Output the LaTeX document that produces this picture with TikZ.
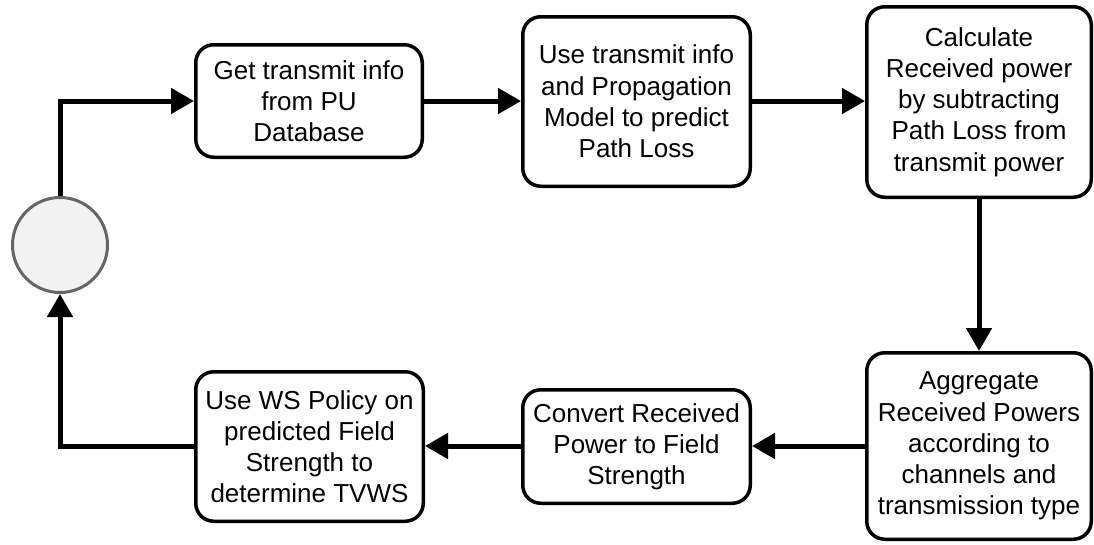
\documentclass[tikz,border=0pt]{standalone}
\usepackage{fontspec}
\setmainfont{Liberation Sans}
\usetikzlibrary{arrows.meta}

\tikzset{
  stepbox/.style={draw=black, line width=3.5pt, rounded corners=18pt, fill=white,
    align=center, inner sep=0pt, font=\fontsize{26pt}{31.2pt}\selectfont},
  startcircle/.style={circle, draw=black!60, fill=black!5, line width=3pt,
    minimum size=95pt, inner sep=0pt},
  flow/.style={line width=5pt, -{Triangle[length=23pt,width=25pt]}},
}

\begin{document}
\begin{tikzpicture}[x=1pt, y=-1pt]
  \useasboundingbox (0,0) rectangle (1094,544);

  % start / end state
  \node[startcircle] (start) at (60,245) {};

  % upper row
  \node[stepbox, minimum width=226.5pt, minimum height=112.5pt] (get) at (309,101)
    {Get transmit info\\ from PU\\ Database};
  \node[stepbox, minimum width=227.5pt, minimum height=169.5pt] (model) at (636.5,101.5)
    {Use transmit info\\ and Propagation\\ Model to predict\\ Path Loss};
  \node[stepbox, minimum width=224.5pt, minimum height=190.5pt] (calc) at (979,102)
    {Calculate\\ Received power\\ by subtracting\\ Path Loss from\\ transmit power};

  % lower row
  \node[stepbox, minimum width=224.5pt, minimum height=186.5pt] (aggr) at (979,446)
    {Aggregate\\ Received Powers\\ according to\\ channels and\\ transmission type};
  \node[stepbox, minimum width=227.5pt, minimum height=113.5pt] (conv) at (636.5,446.5)
    {Convert Received\\ Power to Field\\ Strength};
  \node[stepbox, minimum width=227.5pt, minimum height=149.5pt] (policy) at (309.5,446.5)
    {Use WS Policy on\\ predicted Field\\ Strength to\\ determine TVWS};

  % connectors
  \draw[flow] (start.north) |- (get.west);
  \draw[flow] (get.east) -- (get.east -| model.west);
  \draw[flow] (get.east -| model.east) -- (get.east -| calc.west);
  \draw[flow] (calc.south) -- (aggr.north);
  \draw[flow] (aggr.west) -- (aggr.west -| conv.east);
  \draw[flow] (aggr.west -| conv.west) -- (aggr.west -| policy.east);
  \draw[flow] (policy.west) -| (start.south);
\end{tikzpicture}
\end{document}
